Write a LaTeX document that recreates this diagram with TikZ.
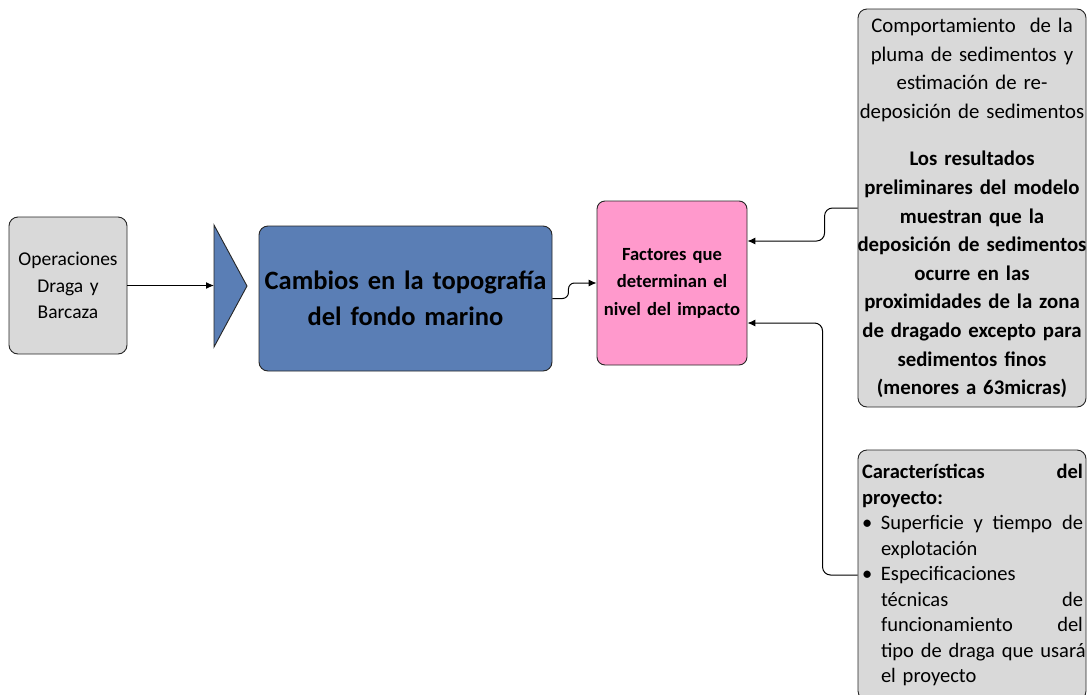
\documentclass[tikz,border=0pt]{standalone}
\usepackage{fontspec}
\setmainfont{Carlito}
\usetikzlibrary{arrows.meta,calc}
\definecolor{boxgray}{HTML}{D9D9D9}
\definecolor{steelblue}{HTML}{5A7EB5}
\definecolor{rosefill}{HTML}{FF99CC}
% a justified line of given width, gaps marked with \hfill
\newcommand{\jline}[2]{\makebox[#1][l]{#2}}

\begin{document}
\begin{tikzpicture}[x=1pt,y=-1pt,
  box/.style={draw=black!85, line width=0.9pt, rounded corners=9pt, inner sep=0pt, align=center},
  link/.style={draw=black, line width=1pt, -{Latex[length=8pt,width=7pt]}}
]
\useasboundingbox[fill=white] (0,0) rectangle (1087,694);

% source box
\node[box, fill=boxgray, minimum width=118pt, minimum height=137pt, text width=116pt,
      font=\fontsize{19.5}{26.5}\selectfont] (ops) at (68,285.5)
  {Operaciones\\Draga y\\Barcaza};

% wedge in front of the main box
\filldraw[fill=steelblue, draw=black!85, line width=0.9pt]
  (214,225) -- (247,286) -- (214,347) -- cycle;
\coordinate (tri) at (214,286);

% main effect
\node[box, fill=steelblue, minimum width=293pt, minimum height=145pt, text width=290pt,
      font=\fontsize{26.5}{36}\selectfont\bfseries] (cambios) at (405.5,298.5)
  {Cambios en la topografía\\del fondo marino};

% impact factors
\node[box, fill=rosefill, rounded corners=8pt, minimum width=150pt, minimum height=164pt,
      text width=148pt, font=\fontsize{18.6}{27.5}\selectfont\bfseries] (factores) at (672,283)
  {Factores que\\determinan el\\nivel del impacto};

% plume model results (text slightly wider than the frame)
\node[box, fill=boxgray, inner xsep=-6pt, minimum width=228pt, minimum height=398pt, text width=240pt,
      font=\fontsize{20.8}{28.6}\selectfont] (pluma) at (972,208)
  {Comportamiento\ \ de la\\pluma de sedimentos y\\estimación de re-\\deposición de sedimentos\\[19pt]
   \textbf{Los resultados}\\\textbf{preliminares del modelo}\\\textbf{muestran que la}\\
   \textbf{deposición de sedimentos}\\\textbf{ocurre en las}\\\textbf{proximidades de la zona}\\
   \textbf{de dragado excepto para}\\\textbf{sedimentos finos}\\\textbf{(menores a 63micras)}};

% project characteristics
\node[box, fill=boxgray, align=left, minimum width=228pt, minimum height=250pt, text width=220pt,
      font=\fontsize{20.5}{25.5}\selectfont] (proyecto) at (972,575)
  {\jline{221pt}{\textbf{Características}\hfill\textbf{del}}\\
   \textbf{proyecto:}\\
   \makebox[19pt][l]{\hspace{0pt}\textbullet}\jline{202pt}{Superficie\hfill y\hfill tiempo\hfill de}\\
   \hspace*{19pt}explotación\\
   \makebox[19pt][l]{\hspace{0pt}\textbullet}Especificaciones\\
   \hspace*{19pt}\jline{202pt}{técnicas\hfill de}\\
   \hspace*{19pt}\jline{202pt}{funcionamiento\hfill del}\\
   \hspace*{19pt}\jline{202pt}{tipo de draga que usará}\\
   \hspace*{19pt}el proyecto};

% connectors
\draw[link] (ops.east) -- (ops.east -| tri);
\draw[link, rounded corners=6pt] (cambios.east) -- ++(16,0) |- (factores.west);
\draw[link, rounded corners=8pt] (pluma.west) -- ++(-33,0) |- ($(factores.east)+(0,-42)$);
\draw[link, rounded corners=8pt] (proyecto.west) -- ++(-35,0) |- ($(factores.east)+(0,40)$);
\end{tikzpicture}
\end{document}
